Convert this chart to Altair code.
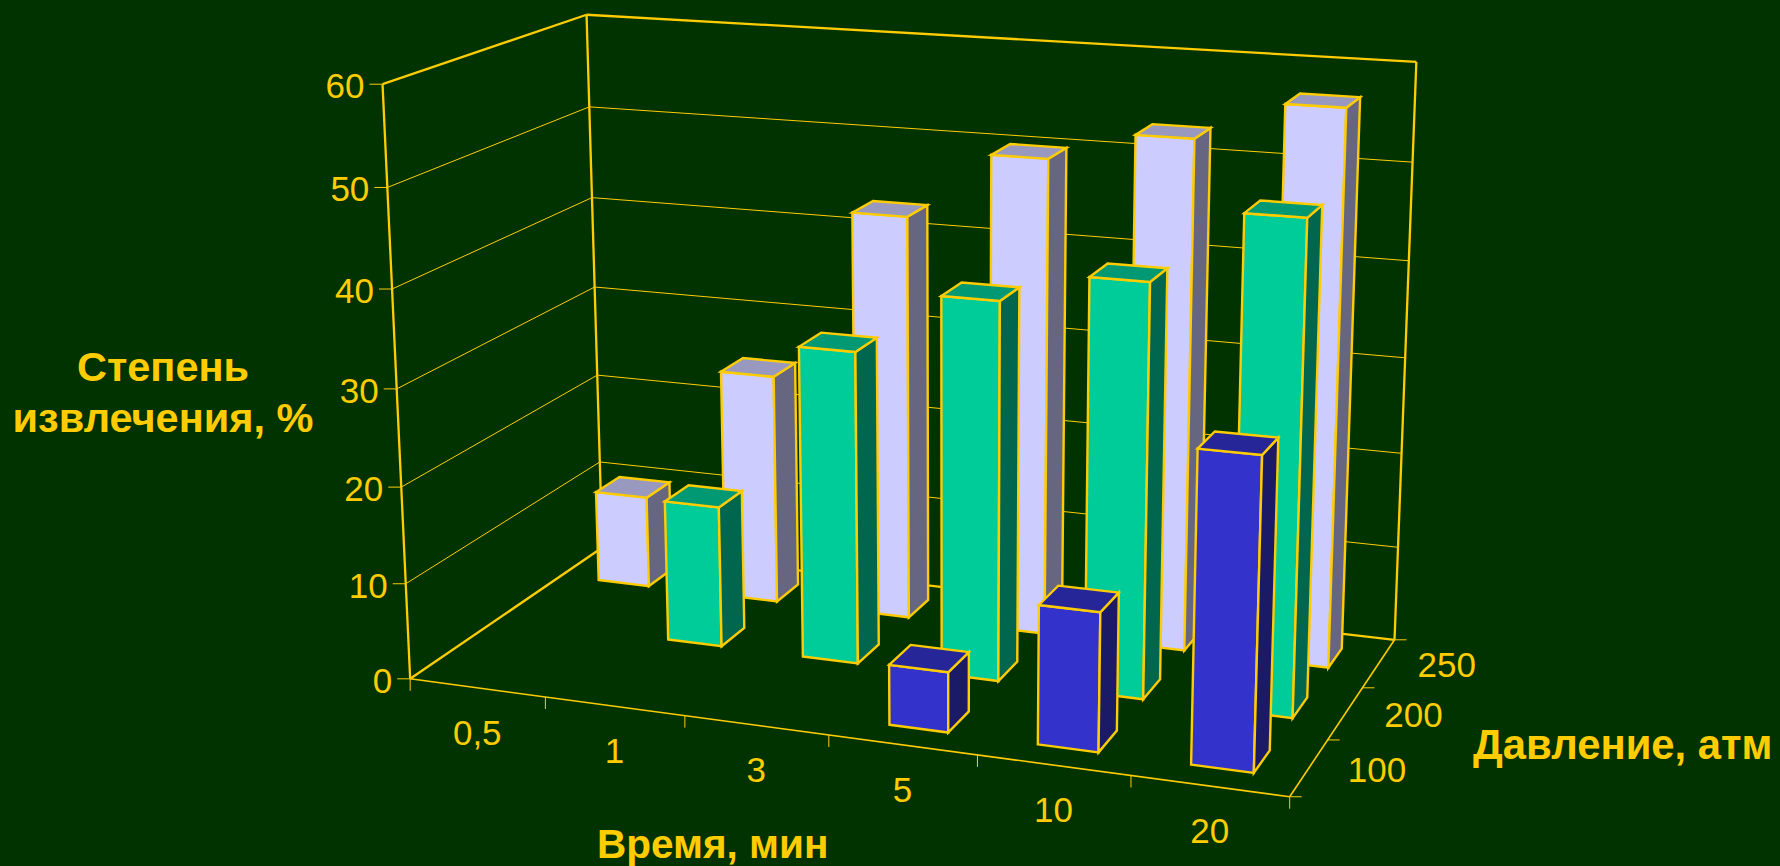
import altair as alt
import numpy as np
import pandas as pd

# Chart values
TIME_LABELS = ["0,5", "1", "3", "5", "10", "20"]
PRESSURE_LABELS = ["100", "200", "250"]
VALUE_TICKS = [0, 10, 20, 30, 40, 50, 60]
EXTRACTION_100 = [None, None, None, 6.1, 13.9, 30.6]
EXTRACTION_200 = [None, 14.9, 32.5, 38.9, 42.0, 49.3]
EXTRACTION_250 = [10.0, 24.8, 43.0, 50.0, 53.0, 57.0]
SERIES = [EXTRACTION_100, EXTRACTION_200, EXTRACTION_250]

# Colours: (front, side, top) for each pressure
BACKGROUND = "#003300"
GOLD = "#FFCC00"
SHADES = [
    ("#3333CC", "#1A1A66", "#262699"),
    ("#00CC99", "#00664D", "#009973"),
    ("#CCCCFF", "#666680", "#9999BF"),
]

W, H = 1780, 866
BAR_START, BAR_END = 0.30, 0.70

# Perspective camera taking (time slot, pressure slot, value) to the screen
CAMERA = np.array([
    [126.901205, 88.630644, -0.769499, 410.163031],
    [7.493962, -21.425275, -9.978488, 678.821106],
    [-0.015263, 0.04079, -0.000808, 1.0],
])


def project(t, p, v):
    q = CAMERA @ np.array([t, p, v, 1.0])
    return float(q[0] / q[2]), float(q[1] / q[2])


def segment_rows(segments):
    rows = []
    for i, (a, b, dx, dy) in enumerate(segments):
        ax, ay = project(*a)
        if b is None:
            bx, by = ax + dx, ay + dy
        else:
            bx, by = project(*b)
        rows.append({"seg": i, "k": 0, "x": ax, "y": ay})
        rows.append({"seg": i, "k": 1, "x": bx, "y": by})
    return pd.DataFrame(rows)


top = VALUE_TICKS[-1]
inner_values = VALUE_TICKS[1:-1]

# Wall gridlines and axis ticks
thin_segments = []
for v in inner_values:
    thin_segments.append(((0, 0, v), (0, 3, v), 0, 0))
    thin_segments.append(((0, 3, v), (6, 3, v), 0, 0))
for v in VALUE_TICKS:
    thin_segments.append(((0, 0, v), None, -13, 0))
for t in range(7):
    thin_segments.append(((t, 0, 0), None, 0, 12))
for p in range(4):
    thin_segments.append(((6, p, 0), None, 12, 0))

# Front floor edges
floor_segments = [
    ((0, 0, 0), (6, 0, 0), 0, 0),
    ((6, 0, 0), (6, 3, 0), 0, 0),
]

# Heavier outline of the walls and floor
frame_segments = [
    ((0, 0, 0), (0, 0, top), 0, 0),
    ((0, 0, top), (0, 3, top), 0, 0),
    ((0, 3, top), (6, 3, top), 0, 0),
    ((0, 3, top), (0, 3, 0), 0, 0),
    ((6, 3, top), (6, 3, 0), 0, 0),
    ((0, 0, 0), (0, 3, 0), 0, 0),
    ((0, 3, 0), (6, 3, 0), 0, 0),
]

# Bars as front, side and top faces, painted from the back row forward
face_rows = []
face_id = 0
for p in reversed(range(len(SERIES))):
    front, side, cap = SHADES[p]
    for t, value in enumerate(SERIES[p]):
        if value is None:
            continue
        t0, t1 = t + BAR_START, t + BAR_END
        p0, p1 = p + BAR_START, p + BAR_END
        faces = [
            (front, [(t0, p0, 0), (t1, p0, 0), (t1, p0, value), (t0, p0, value)]),
            (side, [(t1, p0, 0), (t1, p1, 0), (t1, p1, value), (t1, p0, value)]),
            (cap, [(t0, p0, value), (t1, p0, value), (t1, p1, value), (t0, p1, value)]),
        ]
        for colour, corners in faces:
            for k, corner in enumerate(corners):
                x, y = project(*corner)
                face_rows.append({"face": face_id, "k": k, "x": x, "y": y, "colour": colour})
            face_id += 1
faces_df = pd.DataFrame(face_rows)

# Tick labels, anchored to the projected axes
value_labels = pd.DataFrame(
    [{"label": str(v), "x": project(0, 0, v)[0] - 18, "y": project(0, 0, v)[1] + 3} for v in VALUE_TICKS]
)
time_labels = pd.DataFrame(
    [
        {"label": s, "x": project(i + 0.5, 0, 0)[0], "y": project(i + 0.5, 0, 0)[1] + 46}
        for i, s in enumerate(TIME_LABELS)
    ]
)
pressure_labels = pd.DataFrame(
    [
        {"label": s, "x": project(6, i + 0.5, 0)[0] + 68, "y": project(6, i + 0.5, 0)[1] + 3}
        for i, s in enumerate(PRESSURE_LABELS)
    ]
)

xs = alt.X("x:Q", scale=alt.Scale(domain=[0, W], nice=False, zero=False), axis=None)
ys = alt.Y("y:Q", scale=alt.Scale(domain=[H, 0], nice=False, zero=False), axis=None)

FONT = "Liberation Sans"


def line_layer(df, width):
    return alt.Chart(df).mark_line(stroke=GOLD, strokeWidth=width, clip=False).encode(
        x=xs, y=ys, detail="seg:N", order="k:Q"
    )


def label_layer(df, align):
    return alt.Chart(df).mark_text(
        font=FONT, fontSize=35, color=GOLD, align=align, baseline="middle"
    ).encode(x=xs, y=ys, text="label:N")


faces_layer = alt.Chart(faces_df).mark_line(
    interpolate="linear-closed", stroke=GOLD, strokeWidth=2.4, strokeJoin="miter"
).encode(
    x=xs, y=ys, detail="face:N", order="k:Q",
    fill=alt.Fill("colour:N", scale=None),
)

titles = [
    ("Степень", 163, 381, "center", 41.5),
    ("извлечения, %", 163, 432, "center", 41.5),
    ("Время, мин", 597, 858, "left", 40.5),
    ("Давление, атм", 1473, 759, "left", 41.8),
]
title_layers = [
    alt.Chart(pd.DataFrame({"label": [text]})).mark_text(
        font=FONT, fontSize=size, fontWeight="bold", color=GOLD, align=align, baseline="alphabetic"
    ).encode(x=alt.value(x), y=alt.value(y), text="label:N")
    for text, x, y, align, size in titles
]

chart = alt.layer(
    line_layer(segment_rows(thin_segments), 1),
    line_layer(segment_rows(floor_segments), 1.6),
    line_layer(segment_rows(frame_segments), 2.3),
    faces_layer,
    label_layer(value_labels, "right"),
    label_layer(time_labels, "center"),
    label_layer(pressure_labels, "center"),
    *title_layers,
).properties(
    width=W, height=H, background=BACKGROUND, padding=0,
    autosize=alt.AutoSizeParams(type="none"),
).configure_view(strokeWidth=0)

chart.save("out.html", embed_options={"renderer": "svg", "actions": False})
